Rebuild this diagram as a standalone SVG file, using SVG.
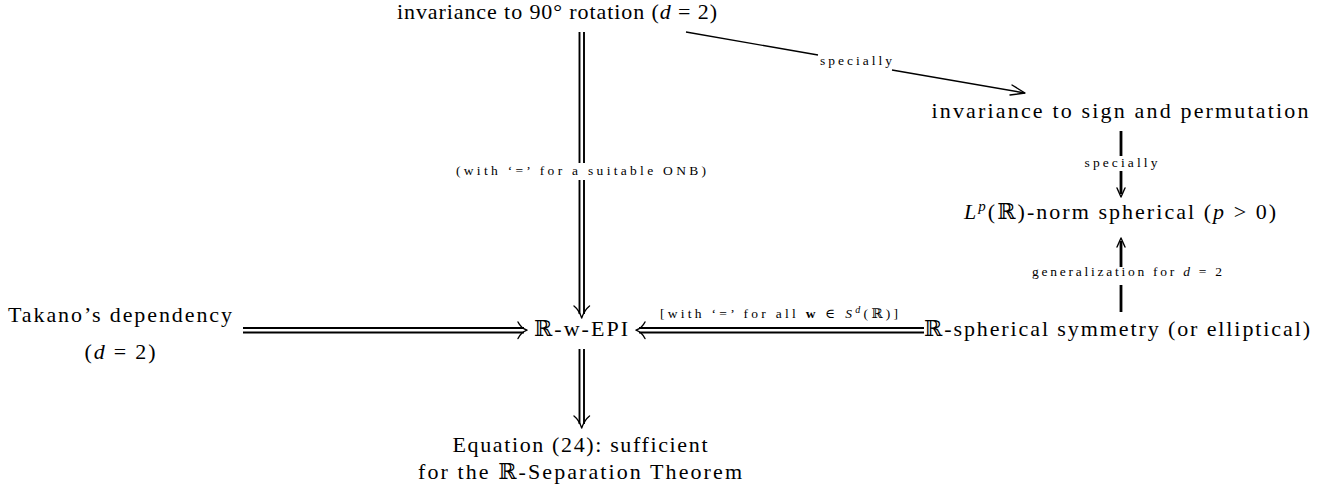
<svg xmlns="http://www.w3.org/2000/svg" width="1333" height="495" viewBox="0 0 1333 495" font-family="'Liberation Serif', 'DejaVu Serif', serif">
<style>
text{font-family:"Liberation Serif","DejaVu Serif",serif;fill:#000}
.n{font-size:22px;text-anchor:middle}
.l{font-size:13.5px;text-anchor:middle}
.i{font-style:italic}
.b{font-weight:bold}
.dl{stroke:#000;stroke-width:1.9;fill:none}
.sl{stroke:#000;stroke-width:2.8;fill:none}
.tl{stroke:#000;stroke-width:1.4;fill:none}
.hd{stroke:#000;stroke-width:1.4;fill:none;stroke-linecap:round;stroke-linejoin:round}
</style>
<rect width="1333" height="495" fill="#fff"/>
<g id="connectors">
  <g id="c_rot_epi">
    <path class="dl" d="M579.5,32V163M584,32V163M579.5,180V314M584,180V314"/>
    <path class="hd" d="M574,306Q579,310 581.7,318Q584.5,310 589.5,306"/>
    <text class="l" x="581" y="175" textLength="250" lengthAdjust="spacing">(with ‘=’ for a suitable ONB)</text>
  </g>
  <g id="c_rot_sign">
    <path class="tl" d="M686,32L818,55M892,70L1025,93"/>
    <path class="hd" d="M1012,85L1025,93L1010,95"/>
    <text class="l" x="856" y="65" textLength="72" lengthAdjust="spacing">specially</text>
  </g>
  <g id="c_sign_lp">
    <path class="sl" d="M1121,131V156M1121,171V194"/>
    <path class="hd" d="M1117,188L1121,197L1125,188"/>
    <text class="l" x="1121" y="167" textLength="73" lengthAdjust="spacing">specially</text>
  </g>
  <g id="c_sph_lp">
    <path class="sl" d="M1121,312V285M1121,267V241"/>
    <path class="hd" d="M1117,247L1121,238L1125,247"/>
    <text class="l" x="1127" y="276" textLength="190" lengthAdjust="spacing">generalization for <tspan class="i">d</tspan> = 2</text>
  </g>
  <g id="c_tak_epi">
    <path class="dl" d="M243,328H524M243,332.5H524"/>
    <path class="hd" d="M518,322Q521,328 527,330.2Q521,332.5 518,338.5"/>
  </g>
  <g id="c_sph_epi">
    <path class="dl" d="M924,328H639M924,332.5H639"/>
    <path class="hd" d="M645,322Q642,328 636,330.2Q642,332.5 645,338.5"/>
    <text class="l" x="779" y="318" textLength="238" lengthAdjust="spacing">[with ‘=’ for all <tspan class="b">w</tspan> ∈ <tspan class="i">S</tspan><tspan class="i" dy="-5" font-size="10">d</tspan><tspan dy="5">(ℝ)]</tspan></text>
  </g>
  <g id="c_epi_eq">
    <path class="dl" d="M579.5,349V424M584,349V424"/>
    <path class="hd" d="M574,416Q579,420 581.7,428Q584.5,420 589.5,416"/>
  </g>
</g>
<g id="n_rot"><text class="n" x="557" y="19" textLength="320" lengthAdjust="spacing">invariance to 90° rotation (<tspan class="i">d</tspan> = 2)</text></g>
<g id="n_sign"><text class="n" x="1120" y="118" textLength="377" lengthAdjust="spacing">invariance to sign and permutation</text></g>
<g id="n_lp"><text class="n" x="1120" y="219" textLength="312" lengthAdjust="spacing"><tspan class="i">L</tspan><tspan class="i" dy="-8" font-size="15">p</tspan><tspan dy="8">(ℝ)-norm spherical (</tspan><tspan class="i">p</tspan> &gt; 0)</text></g>
<g id="n_sph"><text class="n" x="1117" y="336" textLength="386" lengthAdjust="spacing">ℝ-spherical symmetry (or elliptical)</text></g>
<g id="n_epi"><text class="n" x="581" y="336" textLength="94" lengthAdjust="spacing">ℝ-w-EPI</text></g>
<g id="n_takano">
  <text class="n" x="120" y="322" textLength="224" lengthAdjust="spacing">Takano’s dependency</text>
  <text class="n" x="120" y="359" textLength="71" lengthAdjust="spacing">(<tspan class="i">d</tspan> = 2)</text>
</g>
<g id="n_eq">
  <text class="n" x="580" y="452" textLength="255" lengthAdjust="spacing">Equation (24): sufficient</text>
  <text class="n" x="580" y="479" textLength="324" lengthAdjust="spacing">for the ℝ-Separation Theorem</text>
</g>
</svg>
